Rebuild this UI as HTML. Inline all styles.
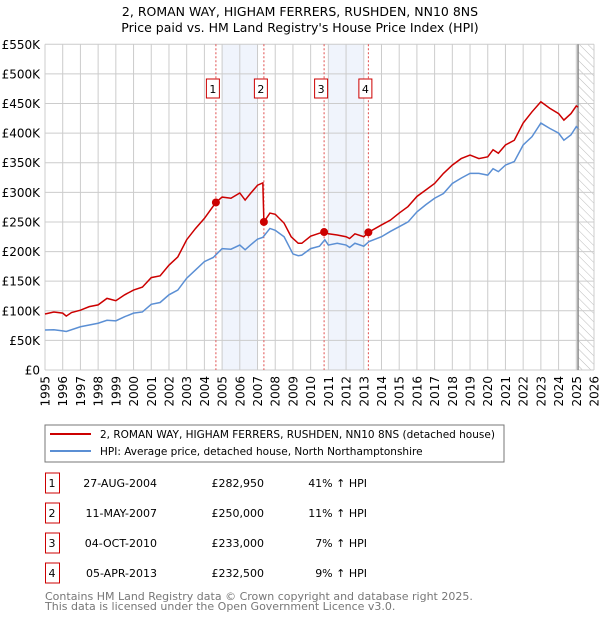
<!DOCTYPE html>
<html><head><meta charset="utf-8"><style>
body{margin:0;background:#fff;font-family:"DejaVu Sans","Liberation Sans",sans-serif;}
svg text{font-family:"DejaVu Sans","Liberation Sans",sans-serif;}
</style></head><body>
<svg id="c" width="600" height="620" xmlns="http://www.w3.org/2000/svg">
<defs><pattern id="hatch" width="6" height="6" patternUnits="userSpaceOnUse" patternTransform="rotate(-45)"><line x1="0" y1="0" x2="0" y2="6" stroke="#bbb" stroke-width="1"/></pattern></defs>
<text x="300" y="16" text-anchor="middle" font-size="12.5">2, ROMAN WAY, HIGHAM FERRERS, RUSHDEN, NN10 8NS</text>
<text x="300" y="32" text-anchor="middle" font-size="12.5">Price paid vs. HM Land Registry's House Price Index (HPI)</text>
<g id="plot"></g>
<rect x="45" y="425" width="459" height="37" fill="#fff" stroke="#777"/>
<line x1="50" y1="434" x2="91" y2="434" stroke="#cc0000" stroke-width="2"/>
<text x="100" y="438" font-size="10.5">2, ROMAN WAY, HIGHAM FERRERS, RUSHDEN, NN10 8NS (detached house)</text>
<line x1="50" y1="451" x2="91" y2="451" stroke="#5b8fd4" stroke-width="2"/>
<text x="100" y="455" font-size="10.5">HPI: Average price, detached house, North Northamptonshire</text>
<g id="tbl" font-size="11"></g>
<text x="45" y="600" font-size="11" fill="#777">Contains HM Land Registry data © Crown copyright and database right 2025.</text>
<text x="45" y="610" font-size="11" fill="#777">This data is licensed under the Open Government Licence v3.0.</text>
</svg>
<script>
const hpiYears=[1995,1995.5,1996,1996.2,1997,1998,1998.5,1999,1999.5,2000,2000.5,2001,2001.5,2002,2002.5,2003,2003.5,2004,2004.5,2005,2005.5,2006,2006.3,2006.6,2007,2007.3,2007.7,2008,2008.5,2009,2009.3,2009.5,2010,2010.5,2010.8,2011,2011.5,2012,2012.2,2012.5,2013,2013.3,2014,2014.5,2015,2015.5,2016,2016.5,2017,2017.5,2018,2018.5,2019,2019.5,2020,2020.3,2020.6,2021,2021.5,2022,2022.5,2023,2023.5,2024,2024.3,2024.7,2025,2025.1];
const hpiValues=[67.5,68,66,65,73,79,84,83,90,96,98,111,114,127,135,155,169,183,190,205,204,211,203,211,221,224,239,236,225,196,193,194,205,209,220,211,214,211,207,214,209,217,225,234,242,250,267,279,290,298,315,324,332,332,329,340,335,346,352,380,394,417,408,400,388,397,411,408];
const priceYears=[1995,1995.5,1996,1996.2,1996.5,1997,1997.5,1998,1998.5,1999,1999.5,2000,2000.5,2001,2001.5,2002,2002.5,2003,2003.5,2004,2004.65,2005,2005.5,2006,2006.3,2006.6,2007,2007.3,2007.36,2007.7,2008,2008.5,2008.9,2009.3,2009.5,2010,2010.5,2010.76,2011,2011.5,2012,2012.2,2012.5,2013,2013.26,2014,2014.5,2015,2015.5,2016,2016.5,2017,2017.5,2018,2018.5,2019,2019.5,2020,2020.3,2020.6,2021,2021.5,2022,2022.5,2023,2023.5,2024,2024.3,2024.7,2025,2025.1];
const priceValues=[94.6,98,96,91,97,101,107,110,121,117,127,135,140,156,159,177,191,220,239,256,283,292,290,299,287,298,312,316,250,265,263,248,225,214,214,226,231,233,230,228,225,222,230,225,232.5,245,253,265,276,293,304,315,332,346,357,363,357,360,372,366,380,388,417,436,453,442,433,422,433,446,444];
const saleLabels=["1","2","3","4"];
const saleYears=[2004.65,2007.36,2010.76,2013.26];
const saleValues=[282.95,250,233,232.5];
const saleDates=["27-AUG-2004","11-MAY-2007","04-OCT-2010","05-APR-2013"];
const salePrices=["£282,950","£250,000","£233,000","£232,500"];
const salePct=["41% ↑ HPI","11% ↑ HPI","7% ↑ HPI","9% ↑ HPI"];
const yTicks=[0,50,100,150,200,250,300,350,400,450,500,550];
const yTickLabels=["£0","£50K","£100K","£150K","£200K","£250K","£300K","£350K","£400K","£450K","£500K","£550K"];
const xTicks=[1995,1996,1997,1998,1999,2000,2001,2002,2003,2004,2005,2006,2007,2008,2009,2010,2011,2012,2013,2014,2015,2016,2017,2018,2019,2020,2021,2022,2023,2024,2025,2026];
const shadeRanges=[[2005,2007],[2011,2013]];

const NS="http://www.w3.org/2000/svg";
const X0=45,X1=594,Y0=370,Y1=44.3;
const xs=y=>X0+(y-1995)/31*(X1-X0);
const ys=v=>Y0-v/550*(Y0-Y1);
const plot=document.getElementById('plot');
function mk(tag,attrs,parent){const e=document.createElementNS(NS,tag);for(const k in attrs)e.setAttribute(k,attrs[k]);(parent||plot).appendChild(e);return e;}

shadeRanges.forEach(r=>{
 const e=mk('rect',{x:xs(r[0]),y:Y1,width:xs(r[1])-xs(r[0]),height:Y0-Y1,fill:'#f0f4fc'});
 
 
});
const h=mk('rect',{x:xs(2025.1),y:Y1,width:X1-xs(2025.1),height:Y0-Y1,fill:'url(#hatch)'});


yTicks.forEach((v,i)=>{
 const l=mk('line',{x1:X0,x2:X1,y1:ys(v),y2:ys(v),stroke:'#ccc'});
 
 
 const t=mk('text',{x:40,y:ys(v)+4.5,'text-anchor':'end','font-size':'12'});
 t.textContent=yTickLabels[i];
 
 
});
xTicks.forEach(yr=>{
 const l=mk('line',{x1:xs(yr),x2:xs(yr),y1:Y1,y2:Y0,stroke:'#ccc'});
 
 
 const t=mk('text',{x:0,y:0,'text-anchor':'end','font-size':'12',transform:`translate(${xs(yr)+4.5},${Y0+6}) rotate(-90)`});
 t.textContent=yr;
 
 
});
const vl=mk('line',{x1:xs(2025.1),x2:xs(2025.1),y1:Y1,y2:Y0,stroke:'#888','stroke-width':1.5});


saleYears.forEach((yr,i)=>{
 const l=mk('line',{x1:xs(yr),x2:xs(yr),y1:Y1,y2:Y0,stroke:'#e05050','stroke-dasharray':'2,2'});
 
 
 const b=mk('rect',{x:xs(yr)-9.5,y:79,width:13,height:19,fill:'#fff',stroke:'#cc0000'});
 
 
 const t=mk('text',{x:xs(yr)-3,y:93,'text-anchor':'middle','font-size':'11'});
 t.textContent=saleLabels[i];
 
 
});
const hp=mk('polyline',{points:hpiYears.map((y,i)=>xs(y)+','+ys(hpiValues[i])).join(' '),fill:'none',stroke:'#5b8fd4','stroke-width':1.5});


const pp=mk('polyline',{points:priceYears.map((y,i)=>xs(y)+','+ys(priceValues[i])).join(' '),fill:'none',stroke:'#cc0000','stroke-width':1.5});


saleYears.forEach((yr,i)=>{
 const c=mk('circle',{cx:xs(yr),cy:ys(saleValues[i]),r:4,fill:'#cc0000'});
 
 
});
const tbl=document.getElementById('tbl');
saleLabels.forEach((s,i)=>{
 const cy=483+i*30;
 const b=mk('rect',{x:45.5,y:cy-10,width:14,height:20,fill:'#fff',stroke:'#cc0000'},tbl);
 
 
 const cells=[[s,52,'middle','table-index'],[saleDates[i],157,'end','table-date'],[salePrices[i],264,'end','table-price'],[salePct[i],367,'end','table-pct']];
 cells.forEach(c=>{
  const t=mk('text',{x:c[1],y:cy+4,'text-anchor':c[2]},tbl);
  t.textContent=c[0];
  
  
 });
});
</script>
</body></html>
